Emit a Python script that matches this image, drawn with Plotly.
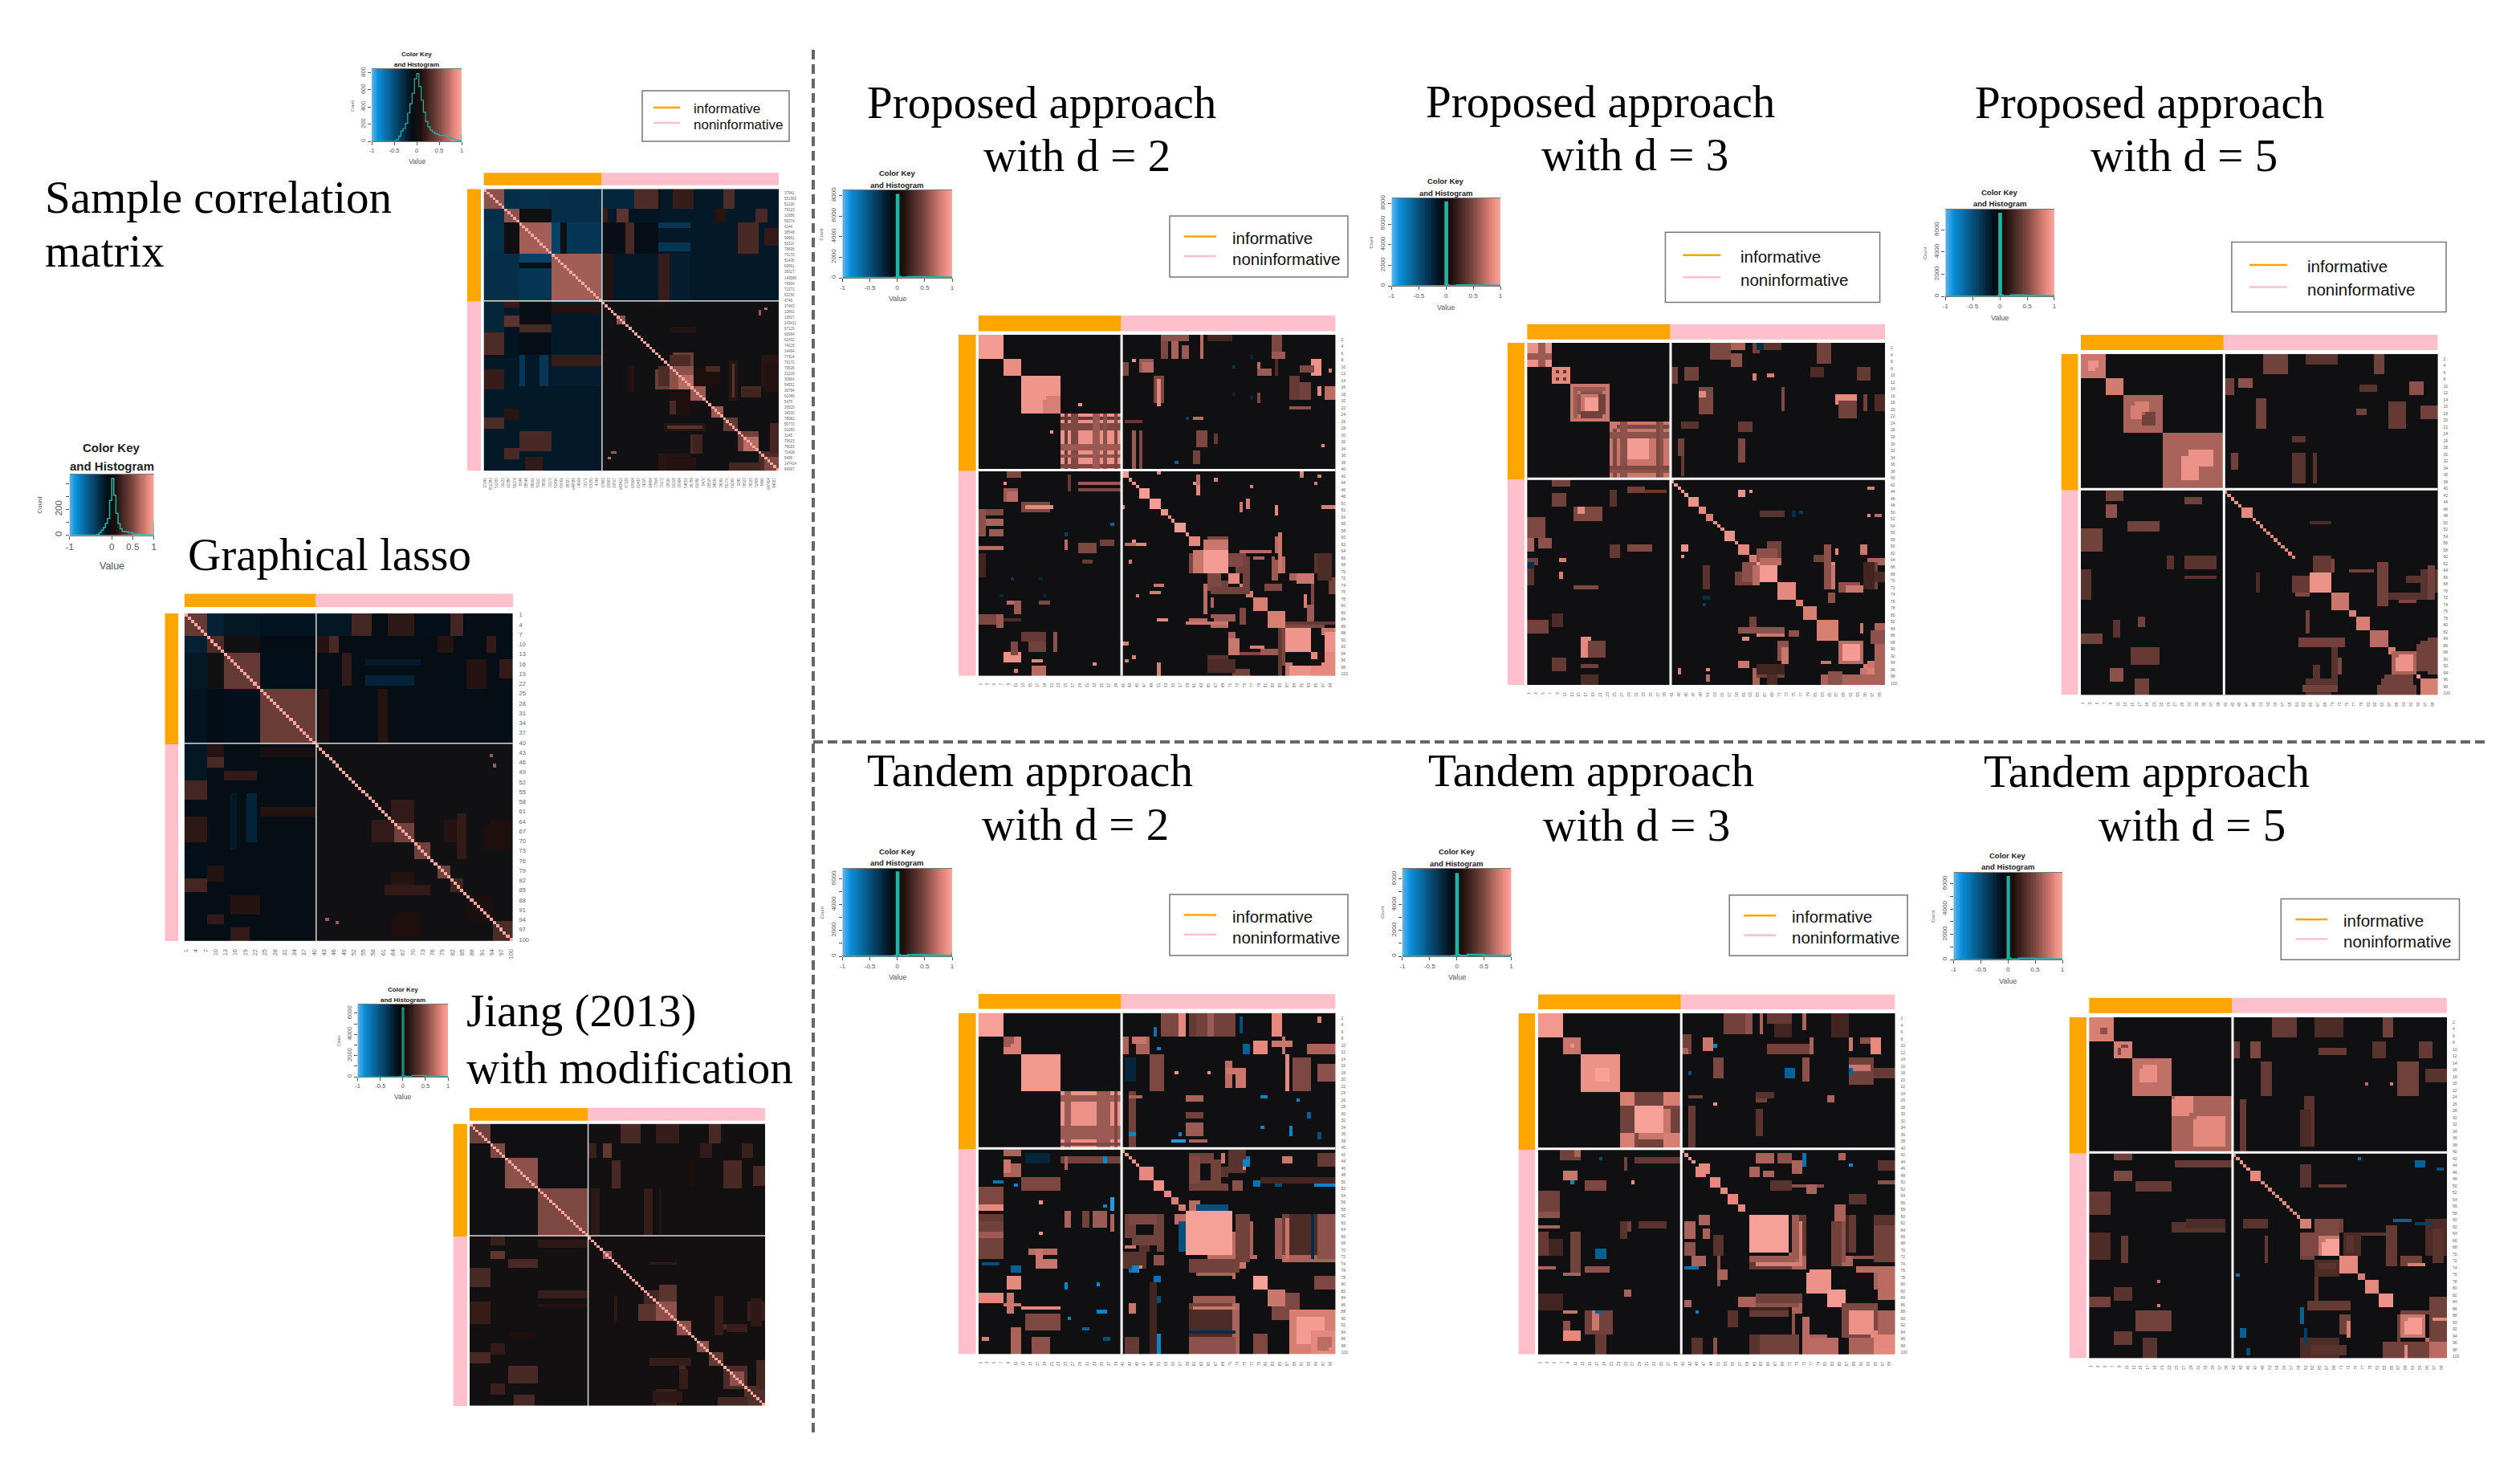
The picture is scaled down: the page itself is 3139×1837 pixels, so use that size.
import numpy as np
import plotly.graph_objects as go

W, H = 3139, 1837
ORANGE, PINK = "#FFA500", "#FFC0CB"
COLORSCALE = [[0, "#62b4ee"], [0.07, "#0b90da"], [0.25, "#064f7a"], [0.45, "#030d16"], [0.5, "#101012"],
              [0.55, "#1e0f0d"], [0.75, "#7d4842"], [0.92, "#e4867b"], [1, "#fba69e"]]

# ---- values: (row from, row to, column from, column to, value); the matrices are symmetric
SAMPLE_BLOCKS = [
 (1,40,1,40,-.25),(1,40,41,100,-.17),(41,100,41,100,.01),
 (1,7,1,7,.55),(8,12,8,12,.55),(13,23,13,23,.62),(24,40,24,40,.62),(1,7,8,12,-.3),(1,7,13,23,-.32),(1,7,24,40,-.3),
 (8,12,13,26,.0),(8,12,27,40,-.3),(13,23,24,26,-.42),(13,23,27,28,-.02),(13,23,29,40,-.35),(24,26,1,12,-.3),
 (1,7,41,51,-.25),(1,7,52,59,.3),(1,7,65,71,.2),(1,7,82,85,.3),(1,7,60,60,.0),(8,12,41,42,.2),(8,12,46,49,.36),
 (8,12,50,60,-.15),(8,12,79,82,.14),(8,12,93,96,.28),(13,23,49,51,.28),(13,23,87,93,.28),(15,20,96,100,.18),
 (13,14,60,70,-.35),(20,22,57,70,-.35),(24,40,42,44,.12),(24,40,60,63,.2),(24,40,64,70,-.2),(13,23,41,48,-.06),(13,23,52,59,-.08),
 (41,42,57,61,.05),(46,48,46,48,.55),(59,63,65,71,.42),(64,70,60,64,.3),(64,70,65,71,.55),(67,70,68,71,.7),
 (71,75,71,75,.6),(78,81,78,81,.6),(82,86,82,86,.4),(87,93,87,93,.45),(89,93,90,93,.7),(94,100,94,100,.3),
 (96,100,96,100,.5),(64,70,73,80,.1),(64,65,76,80,.28),(71,72,88,94,.28),(60,70,95,100,.14),(84,86,62,75,.14),
 (85,85,63,74,.35),(88,94,72,74,.24),(96,100,63,72,.12),(98,100,84,94,.26),(50,51,64,72,.12),(43,43,96,96,.7),(94,94,44,45,.6),
]
GLASSO_BLOCKS = [
 (1,40,1,40,-.1),(1,40,41,100,-.08),(41,100,41,100,.01),
 (1,7,1,7,.4),(8,12,8,12,.3),(13,23,13,23,.4),(24,40,24,40,.42),(1,7,8,12,-.22),(1,7,13,23,-.16),(1,7,24,40,-.14),
 (8,12,13,24,.01),(8,12,25,40,-.13),(13,23,24,40,-.12),(8,12,24,40,-.09),
 (1,7,41,51,-.16),(1,7,52,57,.26),(1,7,63,70,.16),(1,7,82,85,.26),(1,7,73,80,-.12),(8,12,41,47,.13),(8,12,45,47,.28),
 (8,12,51,78,-.08),(8,12,78,82,.13),(8,12,93,95,.18),(13,22,49,51,.18),(15,16,56,72,-.18),(20,22,56,70,-.24),
 (15,23,87,92,.13),(15,20,97,100,.18),(24,40,60,62,.13),(24,40,42,44,.06),
 (65,70,65,70,.45),(60,64,66,70,.22),(64,70,58,64,.18),(71,74,71,75,.45),(78,81,78,81,.45),(82,85,82,85,.25),
 (96,100,95,100,.3),(87,94,89,94,.08),(64,70,80,86,.13),(64,70,94,99,.1),(84,86,62,75,.18),(92,99,66,72,.1),
 (47,47,95,95,.6),(44,44,94,94,.6),
]
JIANG_BLOCKS = [
 (1,40,41,100,.02),(41,100,41,100,.03),
 (1,7,1,7,.45),(8,12,8,12,.5),(13,23,13,23,.55),(24,40,24,40,.5),
 (1,7,52,58,.28),(1,7,64,71,.2),(1,7,82,85,.28),(8,12,41,43,.22),(8,12,46,48,.38),(8,12,79,82,.18),(8,12,93,96,.22),
 (14,23,49,51,.28),(14,23,87,92,.28),(16,22,97,100,.28),(24,40,60,62,.2),(24,40,42,44,.16),(24,40,65,65,.13),(14,22,75,76,.1),
 (60,70,60,70,.26),(58,63,65,70,.36),(64,70,65,70,.55),(71,75,71,75,.55),(78,81,78,81,.55),(82,86,82,86,.4),
 (87,94,87,94,.3),(89,93,89,93,.55),(94,100,95,100,.32),(64,70,95,100,.22),(72,73,87,92,.28),(84,86,62,75,.2),
 (96,99,63,72,.17),(88,94,72,74,.2),(98,100,85,94,.26),(46,47,46,48,.6),(50,50,62,70,.17),
]
PROPOSED2_BLOCKS = [
 (1,7,1,7,.95),(8,12,8,12,.88),(13,23,13,23,.92),(20,23,19,23,.8),(24,40,24,40,.9),(25,25,24,40,.4),(27,28,24,40,.5),
 (24,40,27,28,.5),(24,40,36,36,.55),(39,39,24,40,.5),(33,34,24,40,.6),(21,21,29,29,.9),
 (1,2,52,59,.55),(3,7,52,53,.5),(3,7,55,56,.65),(4,7,58,59,.6),(1,7,63,63,.7),(1,2,65,71,.25),(1,7,83,85,.5),(6,7,83,86,.6),
 (8,8,44,44,.9),(9,12,41,42,.5),(8,11,46,49,.6),(9,11,47,49,.7),(8,12,94,96,.9),(9,11,79,79,.7),(11,12,79,82,.6),
 (8,12,84,84,.3),(10,11,91,94,.5),(11,11,99,99,.8),(13,20,50,52,.5),(14,21,51,51,.85),(13,19,88,90,.4),(15,19,91,93,.45),
 (16,18,96,96,.85),(16,19,98,100,.7),(18,20,79,79,.5),(22,22,88,93,.55),(25,25,61,63,.7),(26,26,42,46,.4),(29,40,44,44,.6),
 (29,40,46,46,.5),(29,33,62,64,.5),(35,38,61,62,.45),(30,32,67,67,.4),(33,33,97,97,.85),(38,38,56,56,-.6),(10,10,72,72,-.35),
 (7,7,77,77,-.25),(18,18,72,72,-.25),(19,19,77,77,-.25),(25,25,59,59,-.4),
 (41,42,41,42,.95),(43,43,43,43,.9),(44,44,44,44,.9),(45,45,45,45,.9),(46,48,46,48,.95),(49,51,49,51,.95),(52,53,52,53,.9),
 (54,54,54,54,.9),(55,55,55,55,.9),(56,58,56,58,.95),(59,59,59,59,.9),(60,62,60,62,.85),(61,63,64,70,.7),(62,62,65,70,.9),
 (60,60,65,70,.5),(64,70,64,70,.95),(64,70,61,63,.75),(71,73,71,73,.85),(74,75,74,75,.8),(76,77,76,77,.8),(78,81,78,81,.8),
 (82,86,82,86,.8),(87,93,87,93,.92),(94,100,94,100,.85),(96,97,94,96,.1),(42,45,62,62,.7),(43,43,67,67,.8),(49,51,76,76,.8),
 (51,51,98,100,.8),(41,41,51,51,.85),(41,41,91,91,.85),(42,42,96,96,.8),(62,62,45,47,.85),(61,61,44,44,.9),(64,64,74,82,.7),
 (65,70,73,75,.45),(71,72,88,93,.65),(72,76,99,100,.45),(65,70,95,99,.35),(66,70,85,86,.7),(60,64,84,85,.7),(66,70,83,83,.6),
 (83,84,67,72,.6),(85,85,59,70,.75),(84,84,51,53,.85),(90,94,71,73,.75),(87,88,97,100,.75),(98,100,88,93,.9),(94,94,74,85,.5),
 (96,99,65,72,.3),(93,94,80,84,.6),(92,92,77,80,.8),(87,97,86,86,.5),(74,75,81,85,.5),(71,75,65,68,.5),(74,74,50,52,.75),
 (75,76,66,76,.45),(78,80,66,66,.65),(85,85,87,100,.4),(91,91,42,42,.8),(95,95,44,44,.8),(97,99,51,51,.8),(77,77,45,45,.8),
]
PROPOSED3_BLOCKS = [
 (1,7,1,7,.9),(5,5,1,7,.6),(1,7,4,5,.6),(8,12,8,12,.85),(9,9,9,9,.4),(11,11,11,11,.4),(9,9,11,11,.4),
 (13,23,13,23,.75),(14,15,16,21,.55),(21,22,16,21,.45),(14,22,14,14,.6),(17,20,17,20,.95),
 (24,40,24,40,.75),(25,25,26,40,.5),(27,27,24,40,.55),(38,38,24,40,.55),(24,40,27,28,.55),(24,40,37,37,.5),(29,34,29,34,.95),
 (1,5,52,57,.5),(1,2,58,61,.65),(4,7,58,60,.55),(1,3,64,65,.45),(1,2,67,71,.35),(1,6,82,85,.45),(8,12,41,42,.45),(8,11,45,48,.45),
 (10,11,64,64,.8),(10,10,68,69,.8),(8,11,93,96,.4),(8,10,80,83,.3),(14,21,49,52,.5),(15,16,49,50,.85),(16,18,87,92,.85),
 (18,22,88,92,.45),(16,20,95,95,.45),(16,20,98,100,.3),(14,20,72,72,.5),(24,26,60,63,.4),(29,35,60,61,.5),(29,33,43,44,.45),
 (34,39,44,44,.4),(24,25,44,48,.35),(1,2,65,66,-.3),
 (41,41,41,41,.95),(42,42,42,42,.95),(43,43,43,43,.95),(44,44,44,44,.95),(45,45,45,45,.95),(46,48,46,48,.9),(49,50,49,50,.85),
 (51,52,51,52,.8),(53,53,53,53,.9),(54,54,54,54,.9),(55,55,55,55,.9),(56,58,56,58,.9),(59,59,59,59,.9),(60,62,60,62,.85),
 (63,64,63,64,.8),(65,70,65,70,.95),(71,75,71,75,.85),(76,77,76,77,.8),(78,81,78,81,.8),(82,87,82,87,.8),(88,94,88,94,.7),
 (89,93,89,93,.95),(95,100,95,100,.8),(59,64,68,71,.45),(65,70,61,64,.55),(64,65,66,71,.7),(44,44,63,63,.9),(43,43,96,97,.8),
 (51,51,96,96,.85),(51,51,98,99,.7),(50,51,66,72,.35),(60,61,44,45,.9),(64,65,96,100,.65),(71,73,88,93,.55),(65,70,86,86,.85),
 (63,64,81,85,.45),(61,62,87,87,.85),(84,85,60,72,.55),(86,86,66,72,.75),(85,86,74,76,.55),(90,94,72,73,.75),(94,95,60,62,.75),
 (94,94,83,85,.75),(94,95,96,100,.75),(90,100,98,100,.7),(98,100,83,100,.65),(96,98,65,72,.45),(85,88,97,100,.55),(68,70,96,100,.3),
 (65,72,95,97,.25),(50,50,77,77,-.4),(75,75,50,51,-.3),
]
PROPOSED5_BLOCKS = [
 (1,7,1,7,.75),(3,4,3,5,.9),(8,12,8,12,.78),(13,23,13,23,.65),(15,17,16,19,.8),(19,21,18,21,.45),(24,40,24,40,.65),(29,33,31,37,.9),
 (1,6,52,58,.45),(1,3,64,72,.35),(1,6,83,85,.45),(8,12,41,43,.45),(8,10,45,48,.55),(9,12,93,96,.55),(10,11,79,83,.35),(14,22,50,52,.45),
 (15,22,87,91,.4),(16,19,96,100,.45),(17,18,78,80,.45),(30,34,43,44,.45),(25,26,60,63,.35),(30,38,60,63,.35),(30,38,66,66,.35),
 (41,41,41,41,.9),(42,42,42,42,.9),(43,43,43,43,.9),(44,44,44,44,.9),(45,45,45,45,.9),(46,48,46,48,.85),(49,49,49,49,.85),
 (50,50,50,50,.85),(51,51,51,51,.85),(52,52,52,52,.85),(53,53,53,53,.85),(54,54,54,54,.85),(55,55,55,55,.85),(56,56,56,56,.85),
 (57,57,57,57,.85),(58,58,58,58,.85),(59,59,59,59,.85),(60,60,60,60,.85),(61,64,66,71,.5),(65,70,65,70,.9),(66,70,60,64,.4),
 (71,75,71,75,.75),(76,77,76,77,.8),(78,81,78,81,.8),(82,86,82,86,.7),(87,88,87,88,.8),(88,94,88,94,.65),(89,93,90,93,.9),
 (95,95,95,95,.9),(96,100,96,100,.8),(64,70,96,100,.35),(71,72,88,93,.55),(64,64,76,82,.45),(84,86,62,74,.45),(90,94,72,73,.5),
 (87,99,71,72,.35),(98,99,63,72,.45),(98,100,84,94,.45),(85,88,96,100,.45),(50,50,65,70,.3),(95,97,86,93,.45),(92,96,66,67,.35),
]
TANDEM2_BLOCKS = [
 (1,7,1,7,.97),(8,12,8,12,.8),(8,9,8,10,.6),(13,23,13,23,.93),(24,40,24,40,.9),(25,26,24,40,.6),(24,40,26,26,.6),(24,40,36,37,.6),
 (34,35,24,40,.6),(24,40,39,39,.5),
 (1,7,52,56,.5),(1,7,57,58,.85),(1,7,60,61,.4),(1,7,62,72,.45),(1,7,65,66,.6),(1,7,83,85,.85),(2,6,74,74,-.5),(2,3,96,96,.8),
 (5,7,50,50,-.7),(8,12,41,48,.65),(8,12,43,44,.05),(9,12,78,81,.85),(10,12,93,100,.65),(11,11,51,51,-.8),(10,12,75,76,-.6),(9,10,83,88,.75),
 (8,12,86,86,.75),(8,9,44,47,.75),(13,23,49,52,.5),(13,23,87,87,.85),(14,23,89,93,.5),(16,20,96,100,.55),(15,22,70,71,.7),
 (17,22,73,75,.75),(17,18,70,72,.75),(14,20,42,44,-.25),(18,18,56,56,.9),(18,18,65,65,.9),(25,26,59,63,.65),(30,31,59,63,.45),
 (33,36,59,63,.6),(24,40,43,44,.45),(25,25,43,46,.65),(25,25,80,81,-.8),(26,26,90,90,-.8),(38,38,55,58,-.9),(36,36,57,57,-.8),
 (34,34,80,80,-.8),(34,36,88,88,-.8),(36,37,96,96,-.5),(30,31,93,93,-.6),(36,36,43,44,-.8),(38,38,60,64,.65),
 (41,41,41,41,.9),(42,42,42,42,.9),(43,43,43,43,.9),(44,44,44,44,.9),(45,45,45,45,.9),(46,49,46,49,.85),(50,52,50,52,.9),
 (53,54,53,54,.85),(55,56,55,56,.8),(57,58,57,58,.8),(59,71,59,71,.97),(72,75,72,75,.75),(78,81,78,81,.97),(83,90,83,90,.5),(82,86,82,86,.75),
 (88,100,88,100,.8),(90,97,90,95,.95),(94,100,94,100,.85),(96,98,96,99,.7),(62,71,73,74,.8),(62,71,76,77,.65),
 (72,72,65,78,.7),(73,76,60,73,.45),(60,71,86,87,.45),(60,71,88,88,.85),(72,73,86,100,.7),(60,71,95,100,.55),(62,70,94,94,-.6),
 (84,85,61,72,.6),(87,87,61,72,.75),(88,100,60,72,.3),(88,100,72,73,.65),(94,94,60,72,-.3),(96,100,60,72,.55),(78,81,95,100,.5),
 (50,50,60,66,.45),(51,51,78,79,-.8),(51,51,84,85,-.5),(50,50,96,100,-.8),(42,44,60,66,.45),(41,47,71,75,.35),(42,44,69,69,.75),(42,45,96,100,.4),
 (43,44,86,88,.75),(46,48,67,70,.35),(43,45,76,76,-.7),(95,100,50,51,-.8),(60,62,43,50,.5),(66,68,44,50,.45),(72,74,50,52,.55),
 (75,75,44,46,.85),(78,79,50,51,-.7),(60,70,51,52,.45),(80,100,49,50,.25),(75,76,44,45,-.8),(60,62,56,58,.7),(62,70,57,58,-.5),
]
TANDEM3_BLOCKS = [
 (1,7,1,7,.93),(8,12,8,12,.75),(10,10,10,10,.9),(13,23,13,23,.9),(17,20,17,20,.97),(24,40,24,40,.8),(28,35,24,27,.45),
 (28,35,36,37,.75),(28,35,38,40,.45),(24,27,29,35,.45),(36,40,28,28,.5),(28,35,28,35,.97),
 (1,6,53,58,.45),(1,6,59,60,.55),(1,6,63,63,.65),(1,3,65,71,.4),(4,7,67,71,.25),(1,7,83,87,.25),(1,5,75,75,.65),(7,12,41,43,.45),
 (8,11,47,49,.75),(8,9,91,96,.55),(8,11,88,88,.75),(8,12,94,96,.85),(10,12,65,76,.45),(8,12,77,77,.65),(11,12,41,42,.65),(14,19,50,52,.5),
 (14,21,88,94,.45),(16,17,88,93,.75),(17,19,95,100,.4),(14,20,75,76,.55),(18,18,43,43,-.5),(17,19,70,72,-.6),(10,10,50,50,-.8),
 (17,18,88,88,-.6),(25,26,62,64,.45),(24,25,62,66,.35),(29,36,62,63,.35),(25,26,82,83,.65),(28,40,43,44,.4),(25,25,43,46,.45),(27,27,50,50,.9),
 (41,41,41,41,.9),(42,42,42,42,.9),(43,43,43,43,.9),(44,44,44,44,.9),(45,47,46,48,.85),(49,51,49,51,.85),(52,53,52,53,.85),
 (54,56,54,56,.85),(57,58,57,58,.85),(60,70,60,70,.97),(71,75,71,75,.65),(76,81,77,82,.9),(82,86,82,86,.95),(86,94,86,95,.5),
 (88,94,88,94,.9),(94,100,94,100,.85),(60,70,73,75,.65),(60,70,74,74,.9),(60,70,85,89,.4),(60,70,95,100,.35),(72,75,60,71,.4),
 (72,73,60,72,.6),(74,74,62,74,.8),(72,72,86,100,.55),(72,74,86,88,.65),(77,81,95,100,.65),(83,85,62,74,.45),(86,86,60,73,.55),
 (87,87,60,70,.25),(90,94,75,75,.75),(95,100,63,73,.45),(96,100,75,84,.7),(88,94,96,100,.65),(90,100,75,76,.7),(51,51,72,80,.55),
 (50,52,66,71,.35),(42,44,62,66,.65),(42,44,68,71,.55),(42,43,85,86,.65),(44,46,96,100,.35),(50,50,96,100,.55),(42,45,75,75,-.7),
 (88,88,45,45,-.8),(60,62,46,48,.65),(64,66,47,48,.65),(72,74,44,47,.65),(76,78,51,53,.65),(88,92,54,56,.35),(84,86,57,61,.65),
]
TANDEM5_BLOCKS = [
 (1,7,1,7,.8),(4,5,4,5,.55),(8,12,8,12,.8),(9,9,10,10,.5),(11,11,9,9,.5),(13,23,13,23,.72),(16,19,15,19,.88),(24,40,24,40,.65),
 (24,28,25,29,.85),(30,38,31,38,.85),
 (1,6,52,58,.4),(1,6,64,71,.3),(1,6,83,85,.45),(8,12,41,42,.45),(8,12,46,48,.5),(8,12,80,83,.35),(8,12,93,96,.4),(10,11,65,72,.4),
 (14,23,49,51,.4),(14,23,87,92,.45),(16,19,95,100,.35),(20,20,85,85,.8),(20,20,78,78,.7),(25,40,43,44,.4),(24,38,61,63,.35),(28,38,60,62,.3),
 (41,41,41,41,.9),(42,42,42,42,.9),(43,43,43,43,.9),(44,44,44,44,.9),(45,45,45,45,.9),(46,48,46,48,.85),(49,49,49,49,.85),
 (50,50,50,50,.85),(51,51,51,51,.85),(52,52,52,52,.85),(53,53,53,53,.85),(54,54,54,54,.85),(55,55,55,55,.85),(56,56,56,56,.85),
 (57,57,57,57,.85),(58,58,58,58,.85),(59,59,59,59,.85),(60,62,60,62,.8),(64,70,64,70,.75),(66,70,67,70,.97),(71,75,71,75,.85),
 (76,77,76,77,.8),(78,81,78,81,.85),(82,85,82,85,.9),(88,94,88,94,.75),(89,93,90,93,.95),(95,100,95,100,.7),(60,63,66,71,.45),
 (64,70,60,64,.5),(60,70,95,100,.3),(64,64,72,85,.35),(71,73,88,93,.45),(84,86,62,73,.4),(90,94,73,73,.8),(88,100,87,87,.45),
 (87,88,96,100,.45),(97,99,63,72,.35),(96,100,83,95,.45),(97,100,89,89,.85),(64,70,72,76,.3),(73,74,65,69,.35),(50,50,65,72,.4),
 (60,62,44,50,.35),(76,76,42,42,-.7),(43,44,92,94,-.6),(98,99,45,45,-.5),(86,90,60,60,-.6),(61,61,92,96,-.4),
]
SPIKE_X = [-1, -.1, -.03, -.01, 0, .02, .05, .2, .5, .8, .97, 1]
PROPOSED2_COUNTS = [0, 5, 40, 8060, 8060, 90, 30, 80, 50, 30, 30, 140]
PROPOSED3_COUNTS = [0, 5, 40, 8100, 8100, 90, 30, 90, 60, 35, 30, 130]
PROPOSED5_COUNTS = [0, 5, 40, 7460, 7460, 100, 30, 110, 70, 35, 30, 110]
TANDEM2_COUNTS = [0, 10, 50, 6500, 6500, 110, 40, 110, 70, 50, 40, 280]
TANDEM3_COUNTS = [0, 10, 50, 6400, 6400, 110, 40, 120, 70, 50, 40, 260]
TANDEM5_COUNTS = [0, 10, 50, 6550, 6550, 110, 40, 110, 60, 40, 30, 60]
JIANG_COUNTS = [0, 5, 40, 6500, 6500, 100, 30, 130, 70, 35, 30, 60]
SAMPLE_HIST_X = [-1,-.5,-.45,-.4,-.35,-.3,-.25,-.2,-.15,-.1,-.05,0,.05,.1,.15,.2,.25,.3,.35,.4,.45,.5,.55,.6,.65,.7,.75,.8,.85,.9,.95,1]
SAMPLE_HIST_Y = [0,0,20,60,120,150,210,330,440,560,730,790,640,480,340,230,170,130,110,90,80,70,70,75,60,45,35,25,15,10,5,90]
GLASSO_HIST_X = [-1,-.4,-.35,-.3,-.25,-.2,-.15,-.1,-.05,0,.05,.1,.15,.2,.25,.3,.35,.4,.5,.6,.7,.8,.9,.99,1]
GLASSO_HIST_Y = [0,0,5,20,40,60,90,130,270,440,310,170,90,50,30,28,25,20,12,8,5,3,2,2,100]
KEY_X = [round(-1 + i * .02, 2) for i in range(101)]
XKEY = [-1, -.5, 0, .5, 1]
GLASSO_XKEY = [-1, 0, .5, 1]
CELLS = list(range(1, 101))
ODD_CELLS = list(range(1, 100, 2))
EVEN_CELLS = list(range(2, 101, 2))
THIRD_CELLS = [1] + list(range(4, 101, 3))
SAMPLE_IDS = ["37941","551383","51220","79123","10386","59374","6144","38548","99661","50110","78836","70170","51436",
 "60661","38327","149589","74564","72371","63150","4749","37463","10863","10507","143412","67129","60964","61432","74215",
 "14464","77814","70172","79526","21218","30964","54551","36784","61086","5476","26515","34530","78081","55770","61060",
 "3245","79523","78023","71408","5496","147414","84097"]

# ---- pixel layout of each panel, kept apart from the values
PANELS = [
 dict(b=SAMPLE_BLOCKS, diag=True, hx=(602.5,970), hy=(235.3,586.5), bar=(215.3,230.8), side=(582,599), kx=(463,575), ky=(85.8,176),
      hist=(SAMPLE_HIST_X,SAMPLE_HIST_Y), ymax=845, yt=[0,200,400,600,800], tick="ids", tf=4.5, kf=7.5, tit=8, lw=1.2,
      leg=(800,983,113,176,14,47,62,22.4,43,17), sep=1.5),
 dict(b=GLASSO_BLOCKS, diag=True, hx=(229.6,639), hy=(763.8,1172), bar=(739.5,756), side=(205.5,222), kx=(86.7,191.6), ky=(591,666.6),
      hist=(GLASSO_HIST_X,GLASSO_HIST_Y), ymax=470, yt=[0,100,200,300,400], ylab={0:"0",200:"200"}, xk=GLASSO_XKEY, tick="third", tf=7.5, kf=11.5, tit=15, lw=1.5,
      sep=1.5),
 dict(b=JIANG_BLOCKS, diag=True, hx=(585,953), hy=(1399.6,1751), bar=(1380,1395.7), side=(564.7,582), kx=(445.5,558), ky=(1250.7,1341),
      hist=(SPIKE_X,JIANG_COUNTS), ymax=6850, yt=list(range(0,7000,1000)), ylab={0:"0",2000:"2000",4000:"4000",6000:"6000"}, tick=None, kf=7.5, tit=8, lw=1.2, sep=1.5),
 dict(b=PROPOSED2_BLOCKS, hx=(1218.7,1663.6), hy=(416.8,841.8), bar=(393,412.5), side=(1194,1215.6), kx=(1049.5,1186), ky=(237,346),
      hist=(SPIKE_X,PROPOSED2_COUNTS), ymax=8500, yt=[0,2000,4000,6000,8000], tick="even", tf=5, kf=8, tit=9.5, lw=2.5,
      leg=(1457,1679,269,345,18,58,76,27,53,20.5), sep=3),
 dict(b=PROPOSED3_BLOCKS, hx=(1902.2,2348), hy=(427,853.3), bar=(403.8,422.8), side=(1877.8,1898.9), kx=(1733.5,1869), ky=(246.8,356.3),
      hist=(SPIKE_X,PROPOSED3_COUNTS), ymax=8500, yt=[0,2000,4000,6000,8000], tick="even", tf=5, kf=8, tit=9.5, lw=2.5,
      leg=(2074.4,2341.6,289.3,376.5,22,69,92,30,59,20.5), sep=3),
 dict(b=PROPOSED5_BLOCKS, hx=(2592,3036.6), hy=(440.8,865.4), bar=(417,436), side=(2567.7,2588.4), kx=(2423.4,2558.9), ky=(260.6,369.2),
      hist=(SPIKE_X,PROPOSED5_COUNTS), ymax=7860, yt=[0,2000,4000,6000], tick="even", tf=5, kf=8, tit=9.5, lw=2.5,
      leg=(2779.9,3047,301.4,388.6,22,69,92,30,59,20.5), sep=3),
 dict(b=TANDEM2_BLOCKS, hx=(1218.7,1663.6), hy=(1261.6,1686.6), bar=(1238,1256.4), side=(1194,1215.6), kx=(1049.5,1186), ky=(1081.6,1191),
      hist=(SPIKE_X,TANDEM2_COUNTS), ymax=6800, yt=list(range(0,7000,1000)), ylab={0:"0",2000:"2000",4000:"4000",6000:"6000"}, tick="even", tf=5, kf=8, tit=9.5, lw=2.5,
      leg=(1457,1679,1114,1190,18,58,76,27,53,20.5), sep=3),
 dict(b=TANDEM3_BLOCKS, hx=(1916,2360.5), hy=(1262,1686.8), bar=(1238.6,1257), side=(1891.6,1912.2), kx=(1746.8,1882.4), ky=(1082,1191),
      hist=(SPIKE_X,TANDEM3_COUNTS), ymax=6800, yt=list(range(0,7000,1000)), ylab={0:"0",2000:"2000",4000:"4000",6000:"6000"}, tick="even", tf=5, kf=8, tit=9.5, lw=2.5,
      leg=(2154.2,2376,1114.8,1190.2,18,58,76,27,53,20.5), sep=3),
 dict(b=TANDEM5_BLOCKS, hx=(2602.2,3048), hy=(1266.8,1691.4), bar=(1242.8,1261.7), side=(2577.8,2598.9), kx=(2433.5,2569), ky=(1086.6,1195.2),
      hist=(SPIKE_X,TANDEM5_COUNTS), ymax=6900, yt=list(range(0,7000,1000)), ylab={0:"0",2000:"2000",4000:"4000",6000:"6000"}, tick="even", tf=5, kf=8, tit=9.5, lw=2,
      leg=(2841.3,3063.5,1119.4,1195.2,18,58,76,27,53,20.5), sep=3),
]
TITLES = [("Sample correlation",54,245),("matrix",54,313),("Graphical lasso",232,690),("Jiang (2013)",579,1259),("with modification",579,1329),
 ("Proposed approach",1078,127),("with d = 2",1223,194),("Proposed approach",1774,126),("with d = 3",1918,192),
 ("Proposed approach",2458,127),("with d = 5",2602,194),("Tandem approach",1078,959),("with d = 2",1221,1026),
 ("Tandem approach",1777,959),("with d = 3",1920,1027),("Tandem approach",2469,960),("with d = 5",2612,1027)]

px = lambda x: x / W
py = lambda y: 1 - y / H
SANS, SERIF = "Liberation Sans", "Liberation Serif"

def matrix(blocks, diag):
    z = np.zeros((100, 100))
    for r0, r1, c0, c1, v in blocks:
        z[r0-1:r1, c0-1:c1] = v
        z[c0-1:c1, r0-1:r1] = v
    if diag:
        np.fill_diagonal(z, 1)
    return z.tolist()

fig = go.Figure()
shapes, notes, axes = [], [], {}
def text(s, x, y, size, color="#000", font=SANS, xa="left", angle=0):
    notes.append(dict(text=s, x=px(x), y=py(y), xref="paper", yref="paper", xanchor=xa, yanchor="middle", showarrow=False,
                      font=dict(size=size, color=color, family=font), textangle=angle))

for i, p in enumerate(PANELS):
    ka, ha = 2*i + 1, 2*i + 2
    kname, hname = f"x{ka}", f"x{ha}"
    ky_name, hy_name = f"y{ka}", f"y{ha}"
    # colour key with histogram
    fig.add_trace(go.Heatmap(z=[KEY_X, KEY_X], x=KEY_X, y=[0, p["ymax"]], zmin=-1, zmax=1, colorscale=COLORSCALE, showscale=False,
                             hoverinfo="skip", xaxis=kname, yaxis=ky_name))
    fig.add_trace(go.Scatter(x=p["hist"][0], y=p["hist"][1], mode="lines", line=dict(color="#1fb5a6", width=p["lw"], shape="hv"),
                             cliponaxis=False, hoverinfo="skip", showlegend=False, xaxis=kname, yaxis=ky_name))
    ylab = p.get("ylab")
    axes[f"xaxis{ka}"] = dict(domain=[px(p["kx"][0]), px(p["kx"][1])], anchor=ky_name, range=[-1, 1], tickvals=p.get("xk", XKEY),
        ticktext=[f"{v:g}" for v in p.get("xk", XKEY)], ticks="outside", ticklen=4, tickcolor="#555", tickfont=dict(size=p["kf"], color="#555", family=SANS),
        showline=True, linecolor="#777", mirror=True, showgrid=False, zeroline=False, tickangle=0)
    axes[f"yaxis{ka}"] = dict(domain=[py(p["ky"][1]), py(p["ky"][0])], anchor=kname, range=[0, p["ymax"]], tickvals=p["yt"],
        ticktext=[(ylab.get(v, "") if ylab else str(v)) for v in p["yt"]], ticks="outside", ticklen=4, tickcolor="#555",
        tickfont=dict(size=p["kf"], color="#555", family=SANS), tickangle=-90, showgrid=False, zeroline=False)
    kcx = (p["kx"][0] + p["kx"][1]) / 2
    text("<b>Color Key</b>", kcx, p["ky"][0] - p["tit"] * 2.25, p["tit"], "#222", xa="center")
    text("<b>and Histogram</b>", kcx, p["ky"][0] - p["tit"] * .7, p["tit"], "#222", xa="center")
    text("Value", kcx, p["ky"][1] + p["kf"] * 3.3, p["kf"] + 1, "#555", xa="center")
    text("Count", p["kx"][0] - p["kf"] * 3.2, (p["ky"][0] + p["ky"][1]) / 2, p["kf"] * .7, "#555", xa="center", angle=-90)
    # correlation matrix
    fig.add_trace(go.Heatmap(z=matrix(p["b"], p.get("diag", False)), x=CELLS, y=CELLS, zmin=-1, zmax=1, colorscale=COLORSCALE,
                             showscale=False, hoverinfo="skip", xaxis=hname, yaxis=hy_name))
    tick = p["tick"]
    xv, yv, xt, yt = [], [], [], []
    if tick == "even":
        xv, yv = ODD_CELLS, EVEN_CELLS; xt, yt = [str(v) for v in xv], [str(v) for v in yv]
    elif tick == "third":
        xv = yv = THIRD_CELLS; xt = yt = [str(v) for v in xv]
    elif tick == "ids":
        xv, yv = ODD_CELLS, EVEN_CELLS; xt = yt = SAMPLE_IDS
    tf = dict(size=p.get("tf", 5), color="#666", family=SANS)
    axes[f"xaxis{ha}"] = dict(domain=[px(p["hx"][0]), px(p["hx"][1])], anchor=hy_name, range=[.5, 100.5], tickvals=xv, ticktext=xt, tickangle=-90,
        tickfont=tf, ticks="outside" if xv else "", ticklen=6, tickcolor="rgba(0,0,0,0)", showgrid=False, zeroline=False, showline=False)
    axes[f"yaxis{ha}"] = dict(domain=[py(p["hy"][1]), py(p["hy"][0])], anchor=hname, range=[100.5, .5], side="right", tickvals=yv, ticktext=yt,
        tickfont=tf, ticks="outside" if yv else "", ticklen=5, tickcolor="rgba(0,0,0,0)", showgrid=False, zeroline=False, showline=False)
    # group colour bars, drawn on the matrix axes
    for (a, b), col in (((.5, 40.5), ORANGE), ((40.5, 100.5), PINK)):
        shapes.append(dict(type="rect", xref=hname, yref="paper", x0=a, x1=b, y0=py(p["bar"][1]), y1=py(p["bar"][0]), fillcolor=col, line_width=0))
        shapes.append(dict(type="rect", xref="paper", yref=hy_name, x0=px(p["side"][0]), x1=px(p["side"][1]), y0=a, y1=b, fillcolor=col, line_width=0))
    sepcol = "#ffffff" if p["sep"] > 2 else "#d8d8d8"
    shapes.append(dict(type="line", xref=hname, yref=hy_name, x0=40.6, x1=40.6, y0=.5, y1=100.5, line=dict(color=sepcol, width=p["sep"])))
    shapes.append(dict(type="line", xref=hname, yref=hy_name, x0=.5, x1=100.5, y0=40.2, y1=40.2, line=dict(color=sepcol, width=p["sep"])))
    # legend box
    if "leg" in p:
        x0, x1, y0, y1, l0, l1, tx, t1, t2, fs = p["leg"]
        shapes.append(dict(type="rect", xref="paper", yref="paper", x0=px(x0), x1=px(x1), y0=py(y1), y1=py(y0), fillcolor="#fff", line=dict(color="#777", width=1.5)))
        for off, col in ((t1 - 1.5, ORANGE), (t2 - 3, PINK)):
            shapes.append(dict(type="line", xref="paper", yref="paper", x0=px(x0 + l0), x1=px(x0 + l1), y0=py(y0 + off), y1=py(y0 + off), line=dict(color=col, width=2.5)))
        text("informative", x0 + tx, y0 + t1, fs, "#111")
        text("noninformative", x0 + tx, y0 + t2, fs, "#111")

for s, x, y in TITLES:
    text(s, x, y, 57, "#000", SERIF)
DASH = dict(color="#666", width=4, dash="12px,6px")
shapes.append(dict(type="line", xref="paper", yref="paper", x0=px(1013), x1=px(1013), y0=py(62), y1=py(1790), line=DASH))
shapes.append(dict(type="line", xref="paper", yref="paper", x0=px(1013), x1=px(3097), y0=py(924), y1=py(924), line=DASH))

fig.update_layout(width=W, height=H, margin=dict(l=0, r=0, t=0, b=0), paper_bgcolor="#fff", plot_bgcolor="#fff", template="none",
                  showlegend=False, shapes=shapes, annotations=notes, **axes)
fig.write_html("out.html", config={"displayModeBar": False},
               post_script="document.body.style.margin='0';document.body.style.overflow='hidden';")
